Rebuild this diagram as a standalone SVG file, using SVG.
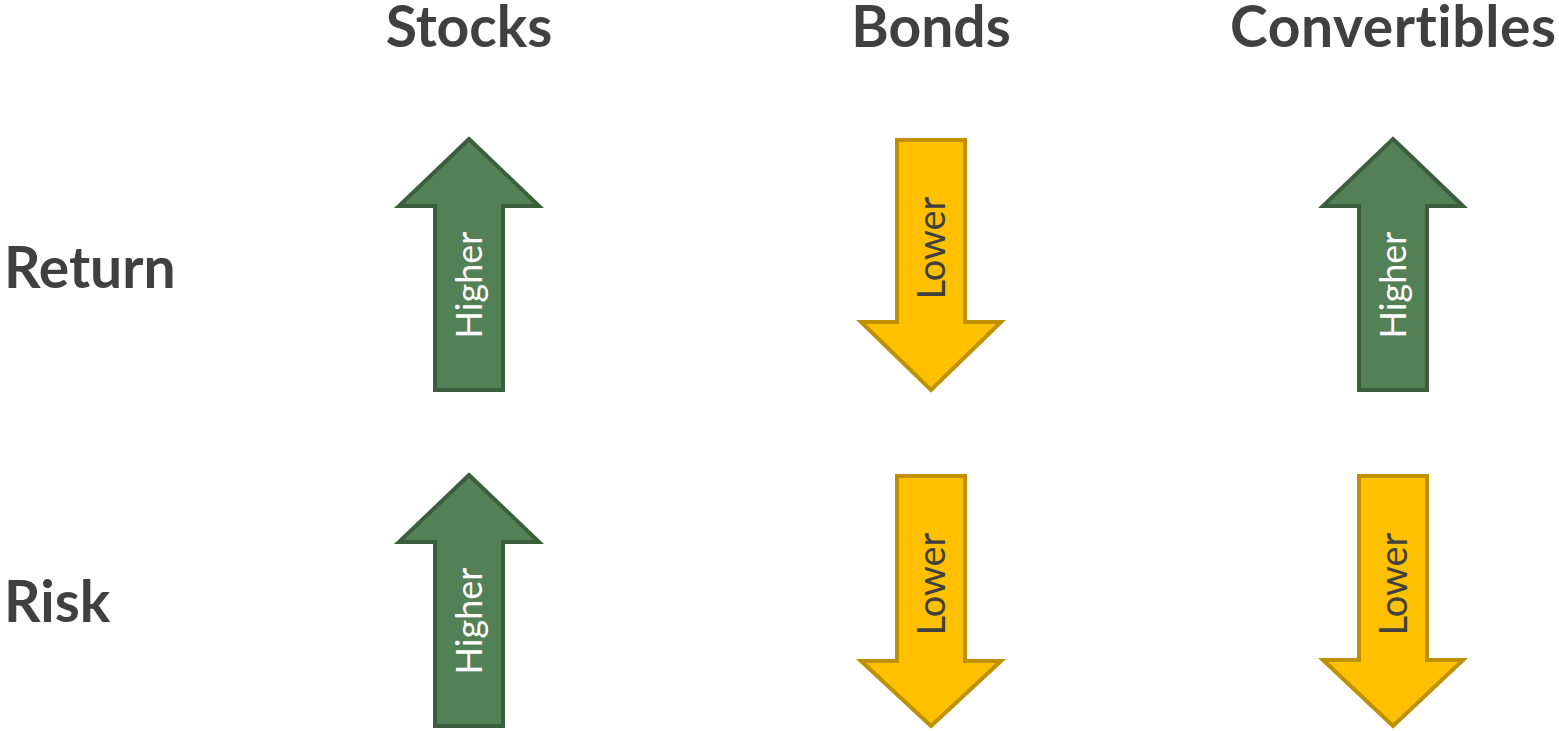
<svg xmlns="http://www.w3.org/2000/svg" width="1559" height="731" viewBox="0 0 1559 731">
  <style>
    .head { font-family: Lato, "Open Sans", sans-serif; font-weight: bold; font-size: 57px; fill: #404040; font-variant-ligatures: none; }
    .up { fill: #548055; stroke: #3B5E3D; stroke-width: 4; stroke-linejoin: miter; }
    .down { fill: #FFC000; stroke: #BF9000; stroke-width: 4; stroke-linejoin: miter; }
    .lbl { font-family: Lato, "Open Sans", sans-serif; text-anchor: middle; font-variant-ligatures: none; }
    .lbl-up { fill: #FFFFFF; font-size: 36px; }
    .lbl-down { fill: #404040; font-size: 38px; }
  </style>
  <rect width="1559" height="731" fill="#FFFFFF"/>

  <!-- column headings -->
  <g id="col-stocks"><text class="head" x="469" y="47" text-anchor="middle">Stocks</text></g>
  <g id="col-bonds"><text class="head" x="931" y="47" text-anchor="middle">Bonds</text></g>
  <g id="col-convertibles"><text class="head" x="1393" y="47" text-anchor="middle" textLength="326" lengthAdjust="spacing">Convertibles</text></g>

  <!-- row headings -->
  <g id="row-return"><text class="head" x="4" y="288">Return</text></g>
  <g id="row-risk"><text class="head" x="4" y="622">Risk</text></g>

  <!-- return row -->
  <g id="return-stocks">
    <path class="up" d="M469,139 L539,206 L503,206 L503,390 L435,390 L435,206 L399,206 Z"/>
    <text class="lbl lbl-up" x="482" y="285" transform="rotate(-90 482 285)">Higher</text>
  </g>
  <g id="return-bonds">
    <path class="down" d="M897,140 L965,140 L965,322 L1001,322 L931,390 L861,322 L897,322 Z"/>
    <text class="lbl lbl-down" x="945" y="248" transform="rotate(-90 945 248)">Lower</text>
  </g>
  <g id="return-convertibles">
    <path class="up" d="M1393,139 L1463,206 L1427,206 L1427,390 L1359,390 L1359,206 L1323,206 Z"/>
    <text class="lbl lbl-up" x="1406" y="285" transform="rotate(-90 1406 285)">Higher</text>
  </g>

  <!-- risk row -->
  <g id="risk-stocks">
    <path class="up" d="M469,475 L539,542 L503,542 L503,726 L435,726 L435,542 L399,542 Z"/>
    <text class="lbl lbl-up" x="482" y="621" transform="rotate(-90 482 621)">Higher</text>
  </g>
  <g id="risk-bonds">
    <path class="down" d="M897,476 L965,476 L965,661 L1001,661 L931,726 L861,661 L897,661 Z"/>
    <text class="lbl lbl-down" x="945" y="584" transform="rotate(-90 945 584)">Lower</text>
  </g>
  <g id="risk-convertibles">
    <path class="down" d="M1359,476 L1427,476 L1427,660 L1463,660 L1393,726 L1323,660 L1359,660 Z"/>
    <text class="lbl lbl-down" x="1407" y="584" transform="rotate(-90 1407 584)">Lower</text>
  </g>

  <!-- no connectors in this figure -->
  <g id="connectors"/>
</svg>
